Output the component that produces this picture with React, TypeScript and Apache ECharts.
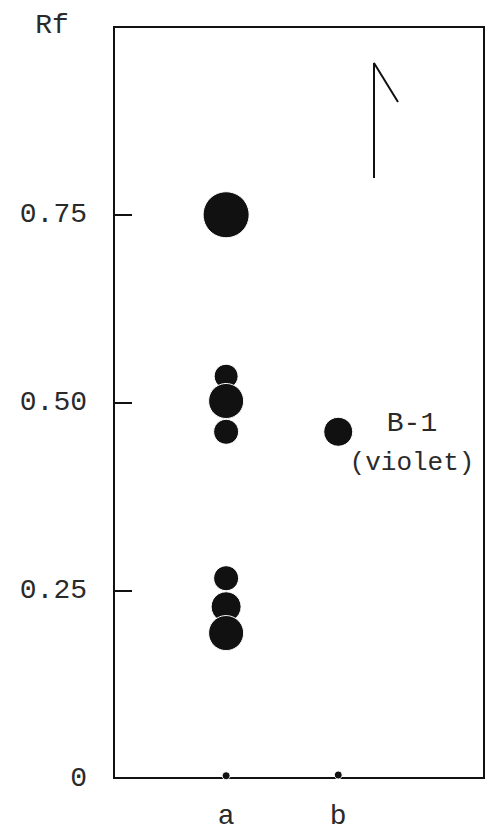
import React, { useEffect, useRef } from "react";
import * as echarts from "echarts";

// Lanes (x positions on the plate) and their labels
const laneNames = ["a", "b"];
const laneX = [1, 2];

// Spot Rf values and spot diameters (px) per lane
const laneARf = [0.75, 0.535, 0.502, 0.461, 0.266, 0.228, 0.193, 0.003];
const laneASize = [46, 24, 35, 25, 25, 30, 35, 8];
const laneBRf = [0.461, 0.004];
const laneBSize = [29, 8];

// Y tick labels
const yTicks = [0, 0.25, 0.5, 0.75];
const yTickLabels = ["0", "0.25", "0.50", "0.75"];

// Solvent direction arrow (data coordinates)
const arrowX = [2.319, 2.319, 2.533];
const arrowY = [0.799, 0.952, 0.9];

const FONT = "Liberation Mono";
const FS = 28;
const TXT = "#2a2a2a";

export default function App() {
  const ref = useRef<HTMLDivElement>(null);
  useEffect(() => {
    const chart = echarts.init(ref.current!, null, { renderer: "svg" });
    const spotsA = laneARf.map((v, i) => [laneX[0], v, laneASize[i]]);
    const spotsB = laneBRf.map((v, i) => [laneX[1], v, laneBSize[i]]);
    chart.setOption({
      animation: false,
      backgroundColor: "#ffffff",
      grid: {
        left: 114,
        right: 1,
        top: 27,
        bottom: 50,
        show: true,
        borderColor: "#111",
        borderWidth: 2,
        backgroundColor: "transparent",
      },
      xAxis: {
        type: "value",
        min: 0,
        max: 3.3,
        interval: 1,
        splitLine: { show: false },
        axisTick: { show: false },
        axisLine: { show: true, lineStyle: { color: "#111", width: 2 } },
        axisLabel: {
          margin: 24,
          color: TXT,
          fontFamily: FONT,
          fontSize: FS,
          showMaxLabel: false,
          formatter: (v: number) => {
            const i = laneX.indexOf(Math.round(v * 1000) / 1000);
            return i >= 0 ? laneNames[i] : "";
          },
        },
      },
      yAxis: {
        type: "value",
        min: 0,
        max: 1,
        interval: 0.25,
        splitLine: { show: false },
        axisLine: { show: true, lineStyle: { color: "#111", width: 2 } },
        axisTick: {
          show: true,
          inside: true,
          length: 18,
          lineStyle: { color: "#111", width: 2 },
        },
        axisLabel: {
          margin: 27,
          color: TXT,
          fontFamily: FONT,
          fontSize: FS,
          formatter: (v: number) => {
            const i = yTicks.findIndex((t) => Math.abs(t - v) < 1e-6);
            return i >= 0 ? yTickLabels[i] : "";
          },
        },
      },
      series: [
        {
          type: "scatter",
          name: "a",
          data: spotsA,
          symbol: "circle",
          symbolSize: (d: number[]) => d[2],
          itemStyle: { color: "#111", borderColor: "#fff", borderWidth: 1, opacity: 1 },
          z: 3,
        },
        {
          type: "scatter",
          name: "b",
          data: spotsB,
          symbol: "circle",
          symbolSize: (d: number[]) => d[2],
          itemStyle: { color: "#111", borderColor: "#fff", borderWidth: 1, opacity: 1 },
          z: 3,
        },
        {
          type: "line",
          name: "arrow",
          data: arrowX.map((x, i) => [x, arrowY[i]]),
          showSymbol: false,
          symbol: "none",
          lineStyle: { color: "#111", width: 2 },
          z: 2,
        },
      ],
      graphic: [
        {
          type: "text",
          x: 52,
          y: 25,
          style: {
            text: "Rf",
            fontFamily: FONT,
            fontSize: FS,
            fill: TXT,
            align: "center",
            verticalAlign: "middle",
          },
        },
        {
          type: "text",
          x: 412,
          y: 423,
          style: {
            text: "B-1",
            fontFamily: FONT,
            fontSize: FS,
            fill: TXT,
            align: "center",
            verticalAlign: "middle",
          },
        },
        {
          type: "text",
          x: 412,
          y: 463,
          style: {
            text: "(violet)",
            fontFamily: FONT,
            fontSize: FS - 2,
            fill: TXT,
            align: "center",
            verticalAlign: "middle",
          },
        },
      ],
    });
    return () => chart.dispose();
  }, []);
  return (
    <div
      ref={ref}
      style={{ position: "fixed", left: 0, top: 0, width: 485, height: 830 }}
    />
  );
}
